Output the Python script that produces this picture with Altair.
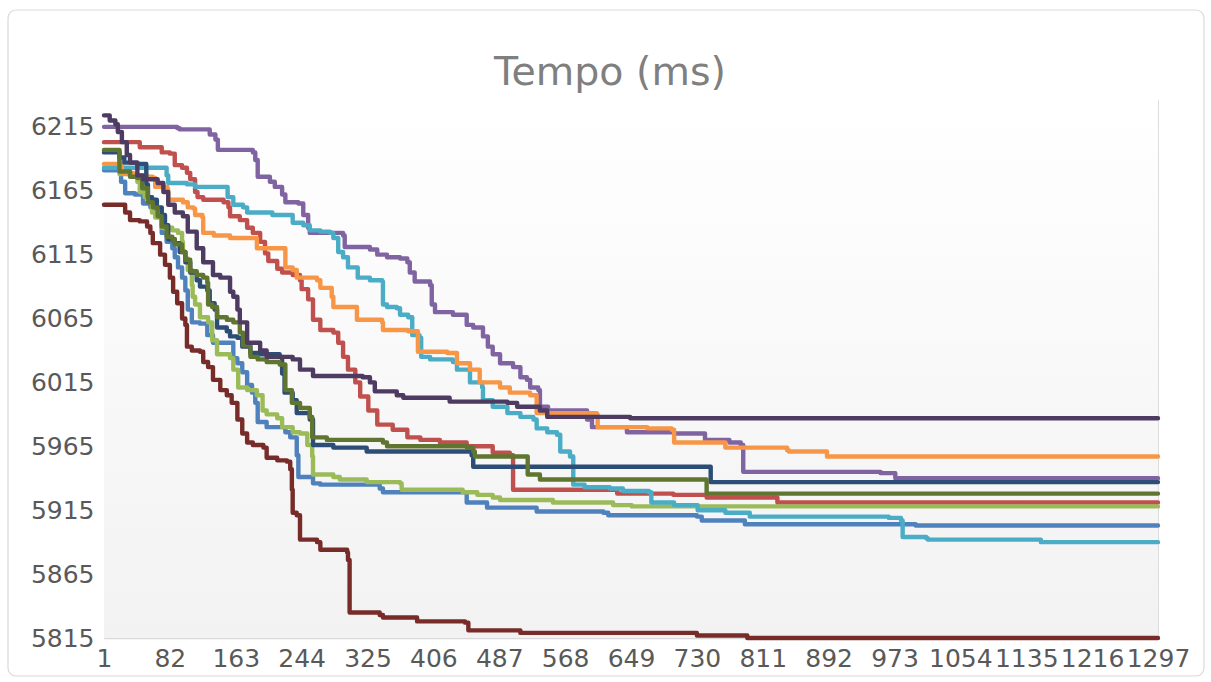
import altair as alt
import pandas as pd

# ---- data (x = iteration, y = tempo in ms) ----
x_ticks = [1, 82, 163, 244, 325, 406, 487, 568, 649, 730, 811, 892, 973, 1054, 1135, 1216, 1297]
y_ticks = [5815, 5865, 5915, 5965, 6015, 6065, 6115, 6165, 6215]
title_text = "Tempo (ms)"

names = ["S01", "S02", "S03", "S04", "S05", "S06", "S07", "S08", "S09", "S10"]
colors = ["#4F81BD", "#C0504D", "#9BBB59", "#8064A2", "#4BACC6",
          "#F79646", "#2C4D75", "#772C2A", "#5F7530", "#4D3B62"]

s01_x = [1, 22, 27, 39, 49, 58, 64, 72, 78, 85, 88, 92, 97, 101, 104, 109, 119, 128, 135, 160,
         165, 171, 177, 183, 187, 190, 201, 224, 230, 238, 240, 258, 267, 340, 344, 447, 472, 533,
         615, 621, 730, 736, 789, 999, 1297]
s01_y = [6181, 6172, 6163, 6162, 6155, 6152, 6145, 6132, 6125, 6120, 6113, 6105, 6097, 6087, 6072,
         6062, 6061, 6052, 6046, 6034, 6030, 6023, 6013, 6007, 5999, 5984, 5980, 5976, 5972, 5958,
         5941, 5936, 5935, 5932, 5929, 5921, 5917, 5914, 5913, 5911, 5910, 5907, 5904, 5903, 5903]

s02_x = [1, 45, 72, 82, 88, 97, 103, 107, 113, 116, 123, 148, 154, 156, 168, 177, 184, 193, 199,
         203, 214, 220, 233, 242, 244, 252, 258, 267, 283, 289, 295, 301, 310, 316, 326, 337, 356,
         374, 390, 414, 447, 479, 500, 504, 632, 701, 742, 829, 1297]
s02_y = [6203, 6199, 6195, 6194, 6185, 6183, 6179, 6174, 6164, 6160, 6158, 6156, 6152, 6145, 6142,
         6136, 6132, 6125, 6116, 6110, 6104, 6101, 6099, 6095, 6088, 6080, 6064, 6056, 6054, 6046,
         6035, 6025, 6015, 6004, 5993, 5982, 5978, 5972, 5970, 5968, 5965, 5960, 5958, 5931, 5928,
         5927, 5925, 5921, 5921]

s03_x = [1, 20, 42, 45, 51, 60, 64, 72, 85, 92, 97, 98, 101, 104, 109, 110, 113, 119, 129, 134,
         140, 156, 160, 166, 177, 189, 196, 201, 214, 220, 233, 242, 251, 257, 258, 283, 291, 324,
         365, 367, 442, 460, 479, 488, 553, 627, 650, 1297]
s03_y = [6196, 6178, 6172, 6164, 6160, 6148, 6144, 6136, 6134, 6132, 6125, 6117, 6112, 6103, 6091,
         6082, 6076, 6066, 6062, 6048, 6037, 6034, 6025, 6011, 6009, 6005, 5993, 5990, 5987, 5980,
         5976, 5975, 5966, 5957, 5943, 5941, 5939, 5937, 5936, 5931, 5929, 5927, 5925, 5923, 5921,
         5919, 5918, 5918]

s04_x = [1, 91, 94, 131, 138, 141, 184, 187, 190, 205, 211, 220, 224, 240, 246, 252, 254, 295,
         297, 328, 337, 349, 365, 374, 377, 383, 402, 404, 408, 430, 447, 455, 467, 473, 479, 488,
         504, 513, 521, 525, 535, 537, 547, 595, 601, 644, 702, 740, 770, 784, 787, 956, 974, 1297]
s04_y = [6215, 6214, 6213, 6209, 6205, 6197, 6195, 6189, 6176, 6172, 6168, 6162, 6156, 6155, 6146,
         6136, 6132, 6130, 6121, 6119, 6115, 6113, 6112, 6109, 6101, 6094, 6091, 6076, 6070, 6068,
         6060, 6058, 6051, 6043, 6037, 6030, 6027, 6019, 6017, 6011, 6009, 5996, 5993, 5986, 5980,
         5976, 5975, 5970, 5968, 5966, 5945, 5944, 5940, 5940]

s05_x = [1, 78, 80, 103, 113, 153, 160, 172, 177, 208, 233, 246, 254, 267, 279, 283, 289, 295, 301,
         313, 328, 343, 344, 349, 361, 365, 375, 380, 389, 391, 402, 430, 435, 451, 466, 467, 479,
         497, 513, 529, 533, 546, 558, 562, 574, 578, 592, 623, 639, 671, 674, 702, 731, 765, 795,
         966, 981, 983, 1012, 1014, 1153, 1297]
s05_y = [6183, 6177, 6171, 6170, 6168, 6160, 6154, 6152, 6148, 6146, 6140, 6138, 6134, 6133, 6132,
         6128, 6117, 6113, 6105, 6097, 6095, 6094, 6076, 6074, 6073, 6068, 6066, 6052, 6050, 6035,
         6033, 6031, 6025, 6015, 6011, 6001, 5996, 5991, 5988, 5986, 5979, 5976, 5974, 5961, 5957,
         5935, 5933, 5932, 5930, 5929, 5921, 5919, 5915, 5913, 5910, 5909, 5907, 5894, 5893, 5892,
         5890, 5890]

s06_x = [1, 23, 37, 54, 61, 64, 79, 80, 98, 104, 111, 113, 122, 123, 136, 156, 189, 224, 233, 238,
         263, 267, 281, 283, 312, 343, 344, 375, 387, 423, 435, 451, 463, 488, 500, 525, 533, 607,
         608, 669, 699, 702, 765, 841, 843, 890, 1297]
s06_y = [6186, 6179, 6177, 6176, 6175, 6168, 6166, 6158, 6156, 6152, 6151, 6146, 6144, 6132, 6130,
         6128, 6120, 6105, 6103, 6097, 6095, 6089, 6082, 6074, 6064, 6062, 6056, 6055, 6039, 6038,
         6030, 6025, 6015, 6011, 6007, 6005, 5991, 5990, 5980, 5979, 5978, 5968, 5964, 5962, 5961,
         5957, 5957]

s07_x = [1, 20, 26, 42, 53, 55, 60, 66, 72, 76, 80, 88, 94, 101, 107, 115, 119, 128, 131, 137, 140,
         152, 156, 165, 171, 181, 193, 217, 220, 223, 233, 238, 254, 258, 283, 324, 453, 455, 747,
         1297]
s07_y = [6195, 6191, 6187, 6186, 6170, 6160, 6158, 6152, 6146, 6138, 6127, 6124, 6117, 6109, 6101,
         6095, 6090, 6087, 6077, 6072, 6058, 6055, 6051, 6050, 6043, 6038, 6037, 6035, 6022, 6007,
         6001, 5991, 5986, 5966, 5964, 5961, 5958, 5949, 5937, 5937]

s08_x = [1, 27, 33, 45, 54, 58, 61, 70, 76, 82, 86, 91, 97, 101, 103, 109, 119, 123, 129, 135, 144,
         152, 158, 165, 171, 177, 184, 197, 201, 214, 226, 230, 232, 233, 238, 242, 263, 267, 300,
         301, 303, 340, 344, 386, 445, 449, 513, 730, 792, 1297]
s08_y = [6154, 6148, 6142, 6141, 6137, 6132, 6124, 6115, 6107, 6097, 6086, 6077, 6065, 6060, 6043,
         6040, 6039, 6031, 6027, 6017, 6009, 6005, 5999, 5986, 5975, 5968, 5966, 5964, 5956, 5954,
         5953, 5947, 5931, 5913, 5911, 5892, 5890, 5884, 5882, 5876, 5835, 5833, 5831, 5828, 5827,
         5821, 5819, 5817, 5815, 5815]

s09_x = [1, 20, 33, 42, 48, 55, 61, 67, 72, 78, 85, 88, 97, 101, 107, 115, 123, 128, 129, 134, 140,
         152, 160, 168, 172, 181, 190, 201, 217, 224, 232, 242, 254, 257, 275, 344, 349, 447, 455,
         457, 522, 537, 742, 1297]
s09_y = [6197, 6180, 6176, 6175, 6167, 6156, 6152, 6145, 6137, 6129, 6127, 6123, 6117, 6111, 6102,
         6099, 6097, 6093, 6076, 6074, 6066, 6064, 6062, 6054, 6044, 6035, 6033, 6031, 6029, 6009,
         5999, 5995, 5988, 5972, 5970, 5968, 5965, 5964, 5961, 5957, 5943, 5939, 5928, 5928]

s10_x = [1, 8, 15, 18, 23, 29, 33, 42, 49, 67, 74, 80, 88, 98, 104, 115, 123, 135, 144, 156, 160,
         165, 168, 177, 193, 201, 233, 242, 258, 319, 328, 334, 361, 369, 426, 497, 509, 537, 546,
         648, 1297]
s10_y = [6224, 6220, 6217, 6211, 6203, 6193, 6187, 6177, 6174, 6171, 6164, 6154, 6148, 6145, 6133,
         6120, 6109, 6099, 6097, 6086, 6082, 6072, 6062, 6046, 6040, 6035, 6033, 6025, 6020, 6019,
         6015, 6008, 6005, 6003, 6000, 5999, 5996, 5993, 5988, 5987, 5987]

series = [(names[0], s01_x, s01_y), (names[1], s02_x, s02_y), (names[2], s03_x, s03_y),
          (names[3], s04_x, s04_y), (names[4], s05_x, s05_y), (names[5], s06_x, s06_y),
          (names[6], s07_x, s07_y), (names[7], s08_x, s08_y), (names[8], s09_x, s09_y),
          (names[9], s10_x, s10_y)]

rows = []
for order, (nm, xs, ys) in enumerate(series):
    for xv, yv in zip(xs, ys):
        rows.append({"serie": nm, "x": xv, "y": yv, "o": order})
df = pd.DataFrame(rows)

W, H = 1054, 538
FONT = "DejaVu Sans"
one = pd.DataFrame({"a": [0]})

background = alt.Chart(one).mark_rect(
    color={"gradient": "linear", "x1": 0, "y1": 0, "x2": 0, "y2": 1,
           "stops": [{"offset": 0, "color": "#FFFFFF"}, {"offset": 1, "color": "#F2F2F2"}]}
).encode(x=alt.value(0), x2=alt.value(W), y=alt.value(0), y2=alt.value(H))

border = alt.Chart(one).mark_rect(
    fill=None, stroke="#D9D9D9", strokeWidth=1.2, cornerRadius=8
).encode(x=alt.value(-96), x2=alt.value(1100), y=alt.value(-90), y2=alt.value(576))

title = alt.Chart(one).mark_text(
    text=title_text, fontSize=39.5, color="#7F7F7F", font=FONT, align="center",
    baseline="alphabetic"
).encode(x=alt.value(506), y=alt.value(-15))

lines = alt.Chart(df).mark_line(
    interpolate="step-after", strokeWidth=4.4, strokeCap="round", strokeJoin="round"
).encode(
    x=alt.X("x:Q", scale=alt.Scale(domain=[1, 1297], nice=False, zero=False),
            axis=alt.Axis(values=x_ticks, title=None, grid=False, ticks=False, tickSize=0,
                          domainColor="#D9D9D9", domainWidth=1.5, labelFontSize=25,
                          labelColor="#595959", labelFont=FONT, labelPadding=8,
                          labelOverlap=False, labelFlush=False, format="d")),
    y=alt.Y("y:Q", scale=alt.Scale(domain=[5815, 6236], nice=False, zero=False),
            axis=alt.Axis(values=y_ticks, title=None, grid=False, ticks=False, tickSize=0,
                          domain=False, labelFontSize=25, labelColor="#595959", labelFont=FONT,
                          labelPadding=10, labelOverlap=False, format="d")),
    color=alt.Color("serie:N", scale=alt.Scale(domain=names, range=colors), legend=None),
    order=alt.Order("o:Q"),
)

chart = alt.layer(border, background, title, lines).properties(
    width=W, height=H,
    autosize="none",
    padding={"left": 104, "top": 100, "right": 53, "bottom": 44},
).configure_view(stroke=None).configure(background="#FFFFFF")

chart.save("out.html", embed_options={"renderer": "svg", "actions": False})
